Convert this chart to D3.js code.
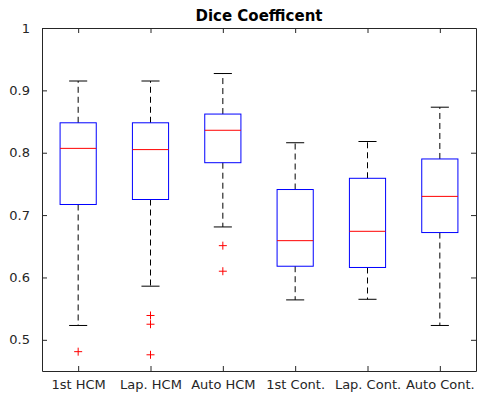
<!DOCTYPE html>
<html>
<head>
<meta charset="utf-8">
<script src="https://cdn.jsdelivr.net/npm/d3@7"></script>
<style>
  body { margin: 0; background: #fff; }
  text { font-family: "DejaVu Sans", sans-serif; }
</style>
</head>
<body>
<svg id="chart"></svg>
<script>
// box plot data
var categories = ["1st HCM", "Lap. HCM", "Auto HCM", "1st Cont.", "Lap. Cont.", "Auto Cont."];
var upperWhisker = [0.915, 0.915, 0.927, 0.816, 0.818, 0.873];
var q3 = [0.848, 0.848, 0.862, 0.741, 0.759, 0.790];
var median = [0.807, 0.805, 0.836, 0.659, 0.674, 0.730];
var q1 = [0.717, 0.725, 0.784, 0.618, 0.616, 0.672];
var lowerWhisker = [0.523, 0.586, 0.681, 0.564, 0.565, 0.523];
var outliers = [[0.481], [0.539, 0.525, 0.476], [0.651, 0.610], [], [], []];
var yTicks = [0.5, 0.6, 0.7, 0.8, 0.9, 1];

var width = 481, height = 394;
var margin = {top: 28, right: 5, bottom: 23, left: 42};

var svg = d3.select("#chart")
  .attr("width", width)
  .attr("height", height);

var x = d3.scaleLinear().domain([0.5, 6.5]).range([margin.left, width - margin.right]);
var y = d3.scaleLinear().domain([0.45, 1]).range([height - margin.bottom, margin.top]);

var axisColor = "#262626";
var boxW = 0.25, capW = 0.125;

var boxes = categories.map(function (c, i) {
  return {i: i + 1, name: c, hi: upperWhisker[i], q3: q3[i], med: median[i], q1: q1[i], lo: lowerWhisker[i], out: outliers[i]};
});

var g = svg.append("g");

// whiskers (dashed)
g.selectAll(".whiskUp").data(boxes).enter().append("line")
  .attr("x1", d => x(d.i)).attr("x2", d => x(d.i))
  .attr("y1", d => y(d.q3)).attr("y2", d => y(d.hi))
  .attr("stroke", "#000").attr("stroke-dasharray", "6,4");
g.selectAll(".whiskLo").data(boxes).enter().append("line")
  .attr("x1", d => x(d.i)).attr("x2", d => x(d.i))
  .attr("y1", d => y(d.q1)).attr("y2", d => y(d.lo))
  .attr("stroke", "#000").attr("stroke-dasharray", "6,4");

// caps
["hi", "lo"].forEach(function (k) {
  g.selectAll(".cap" + k).data(boxes).enter().append("line")
    .attr("x1", d => x(d.i - capW)).attr("x2", d => x(d.i + capW))
    .attr("y1", d => y(d[k])).attr("y2", d => y(d[k]))
    .attr("stroke", "#000");
});

// boxes
g.selectAll(".box").data(boxes).enter().append("rect")
  .attr("x", d => x(d.i - boxW))
  .attr("width", d => x(d.i + boxW) - x(d.i - boxW))
  .attr("y", d => y(d.q3))
  .attr("height", d => y(d.q1) - y(d.q3))
  .attr("fill", "none").attr("stroke", "#0000ff");

// medians
g.selectAll(".med").data(boxes).enter().append("line")
  .attr("x1", d => x(d.i - boxW)).attr("x2", d => x(d.i + boxW))
  .attr("y1", d => y(d.med)).attr("y2", d => y(d.med))
  .attr("stroke", "#ff0000");

// outliers as '+'
var pts = [];
boxes.forEach(function (b) { b.out.forEach(function (v) { pts.push({i: b.i, v: v}); }); });
var plus = g.selectAll(".out").data(pts).enter().append("g")
  .attr("transform", d => "translate(" + x(d.i) + "," + y(d.v) + ")");
plus.append("line").attr("x1", -4).attr("x2", 4).attr("stroke", "#ff0000");
plus.append("line").attr("y1", -4).attr("y2", 4).attr("stroke", "#ff0000");

// axes: left/bottom with labels, top/right tick-only
var tickLen = 5;
var axLeft = svg.append("g").attr("transform", "translate(" + margin.left + ",0)")
  .call(d3.axisLeft(y).tickValues(yTicks).tickFormat(d3.format("")).tickSizeInner(-tickLen).tickSizeOuter(0).tickPadding(12));
var axRight = svg.append("g").attr("transform", "translate(" + (width - margin.right) + ",0)")
  .call(d3.axisRight(y).tickValues(yTicks).tickFormat("").tickSizeInner(-tickLen).tickSizeOuter(0));
var axBottom = svg.append("g").attr("transform", "translate(0," + (height - margin.bottom) + ")")
  .call(d3.axisBottom(x).tickValues(d3.range(1, 7)).tickFormat(d => categories[d - 1]).tickSizeInner(-tickLen).tickSizeOuter(0).tickPadding(9));
var axTop = svg.append("g").attr("transform", "translate(0," + margin.top + ")")
  .call(d3.axisTop(x).tickValues(d3.range(1, 7)).tickFormat("").tickSizeInner(-tickLen).tickSizeOuter(0));

[axLeft, axRight, axBottom, axTop].forEach(function (a) {
  a.selectAll("path, line").attr("stroke", axisColor);
  a.selectAll("text").attr("fill", axisColor).style("font-size", "13px")
    .style("font-family", "DejaVu Sans, sans-serif");
});

// title
svg.append("text")
  .attr("x", (margin.left + width - margin.right) / 2)
  .attr("y", 21)
  .attr("text-anchor", "middle")
  .style("font-size", "15px").style("font-weight", "bold")
  .attr("fill", "#000")
  .text("Dice Coefficent");
</script>
</body>
</html>
